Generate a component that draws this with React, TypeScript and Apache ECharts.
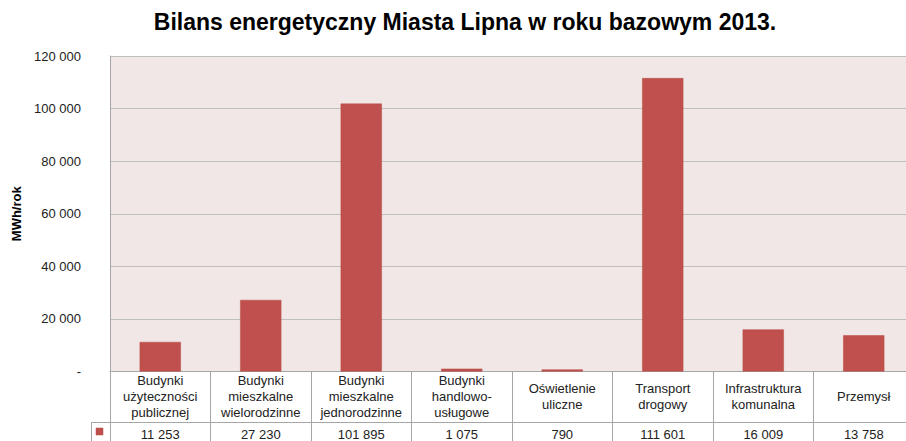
import React, { useEffect, useRef } from "react";
import * as echarts from "echarts";

const title = "Bilans energetyczny Miasta Lipna w roku bazowym 2013.";
const yAxisName = "MWh/rok";
const categories = [
  "Budynki\nużyteczności\npublicznej",
  "Budynki\nmieszkalne\nwielorodzinne",
  "Budynki\nmieszkalne\njednorodzinne",
  "Budynki\nhandlowo-\nusługowe",
  "Oświetlenie\nuliczne",
  "Transport\ndrogowy",
  "Infrastruktura\nkomunalna",
  "Przemysł",
];
const values = [11253, 27230, 101895, 1075, 790, 111601, 16009, 13758];
const yMin = 0;
const yMax = 120000;
const yInterval = 20000;

const fmt = (n: number) =>
  n === 0 ? "-" : String(n).replace(/\B(?=(\d{3})+(?!\d))/g, " ");

const FONT = "'Liberation Sans', Arial, sans-serif";
const BORDER = "#A6A6A6";

export default function App() {
  const ref = useRef<HTMLDivElement>(null);
  useEffect(() => {
    if (!ref.current) return;
    const chart = echarts.init(ref.current, null, { renderer: "svg" });
    chart.setOption({
      animation: false,
      textStyle: { fontFamily: FONT },
      title: {
        text: title,
        left: 460,
        textAlign: "center",
        top: 5,
        textStyle: { fontSize: 23, fontWeight: "bold", color: "#000", fontFamily: FONT },
      },
      grid: {
        left: 110,
        top: 56,
        width: 804,
        height: 316,
        show: true,
        backgroundColor: "#F1E7E7",
        borderWidth: 0,
      },
      xAxis: [
        {
          type: "category",
          data: categories,
          position: "bottom",
          axisLine: { show: true, lineStyle: { color: BORDER, width: 1 } },
          axisTick: { show: true, length: 80, alignWithLabel: false, lineStyle: { color: BORDER } },
          axisLabel: {
            interval: 0,
            margin: 25,
            verticalAlign: "middle",
            fontSize: 13,
            lineHeight: 16,
            color: "#222",
            fontFamily: FONT,
          },
        },
        {
          type: "category",
          data: categories,
          position: "bottom",
          axisLine: { show: false },
          axisTick: { show: false },
          axisLabel: {
            interval: 0,
            margin: 63,
            verticalAlign: "middle",
            fontSize: 13,
            color: "#222",
            fontFamily: FONT,
            formatter: (_v: string, i: number) => fmt(values[i]),
          },
        },
      ],
      yAxis: {
        type: "value",
        min: yMin,
        max: yMax,
        interval: yInterval,
        name: yAxisName,
        nameLocation: "middle",
        nameRotate: 90,
        nameGap: 86,
        nameTextStyle: { fontSize: 13, fontWeight: "bold", color: "#000", fontFamily: FONT },
        axisLine: { show: true, lineStyle: { color: BORDER } },
        axisTick: { show: false },
        axisLabel: {
          margin: 29,
          fontSize: 13,
          color: "#222",
          fontFamily: FONT,
          formatter: (v: number) => fmt(v),
        },
        splitLine: { show: true, lineStyle: { color: "#BFBFBF", width: 1 } },
      },
      series: [
        {
          type: "bar",
          data: values,
          xAxisIndex: 0,
          barWidth: "41%",
          itemStyle: { color: "#C0504D", borderColor: "#B84A47", borderWidth: 0.5 },
        },
      ],
      graphic: [
        {
          type: "line",
          shape: { x1: 91, y1: 422.5, x2: 920, y2: 422.5 },
          style: { stroke: BORDER, lineWidth: 1 },
        },
        {
          type: "line",
          shape: { x1: 91.5, y1: 422, x2: 91.5, y2: 445 },
          style: { stroke: BORDER, lineWidth: 1 },
        },
        {
          type: "rect",
          shape: { x: 96, y: 428, width: 7, height: 7 },
          style: { fill: "#C0504D", stroke: "#B84A47", lineWidth: 0.5 },
        },
      ],
    });
    return () => chart.dispose();
  }, []);
  return (
    <div style={{ position: "absolute", left: 0, top: 0, width: 906, height: 441, overflow: "hidden", background: "#fff" }}>
      <div ref={ref} style={{ width: 920, height: 441 }} />
    </div>
  );
}
